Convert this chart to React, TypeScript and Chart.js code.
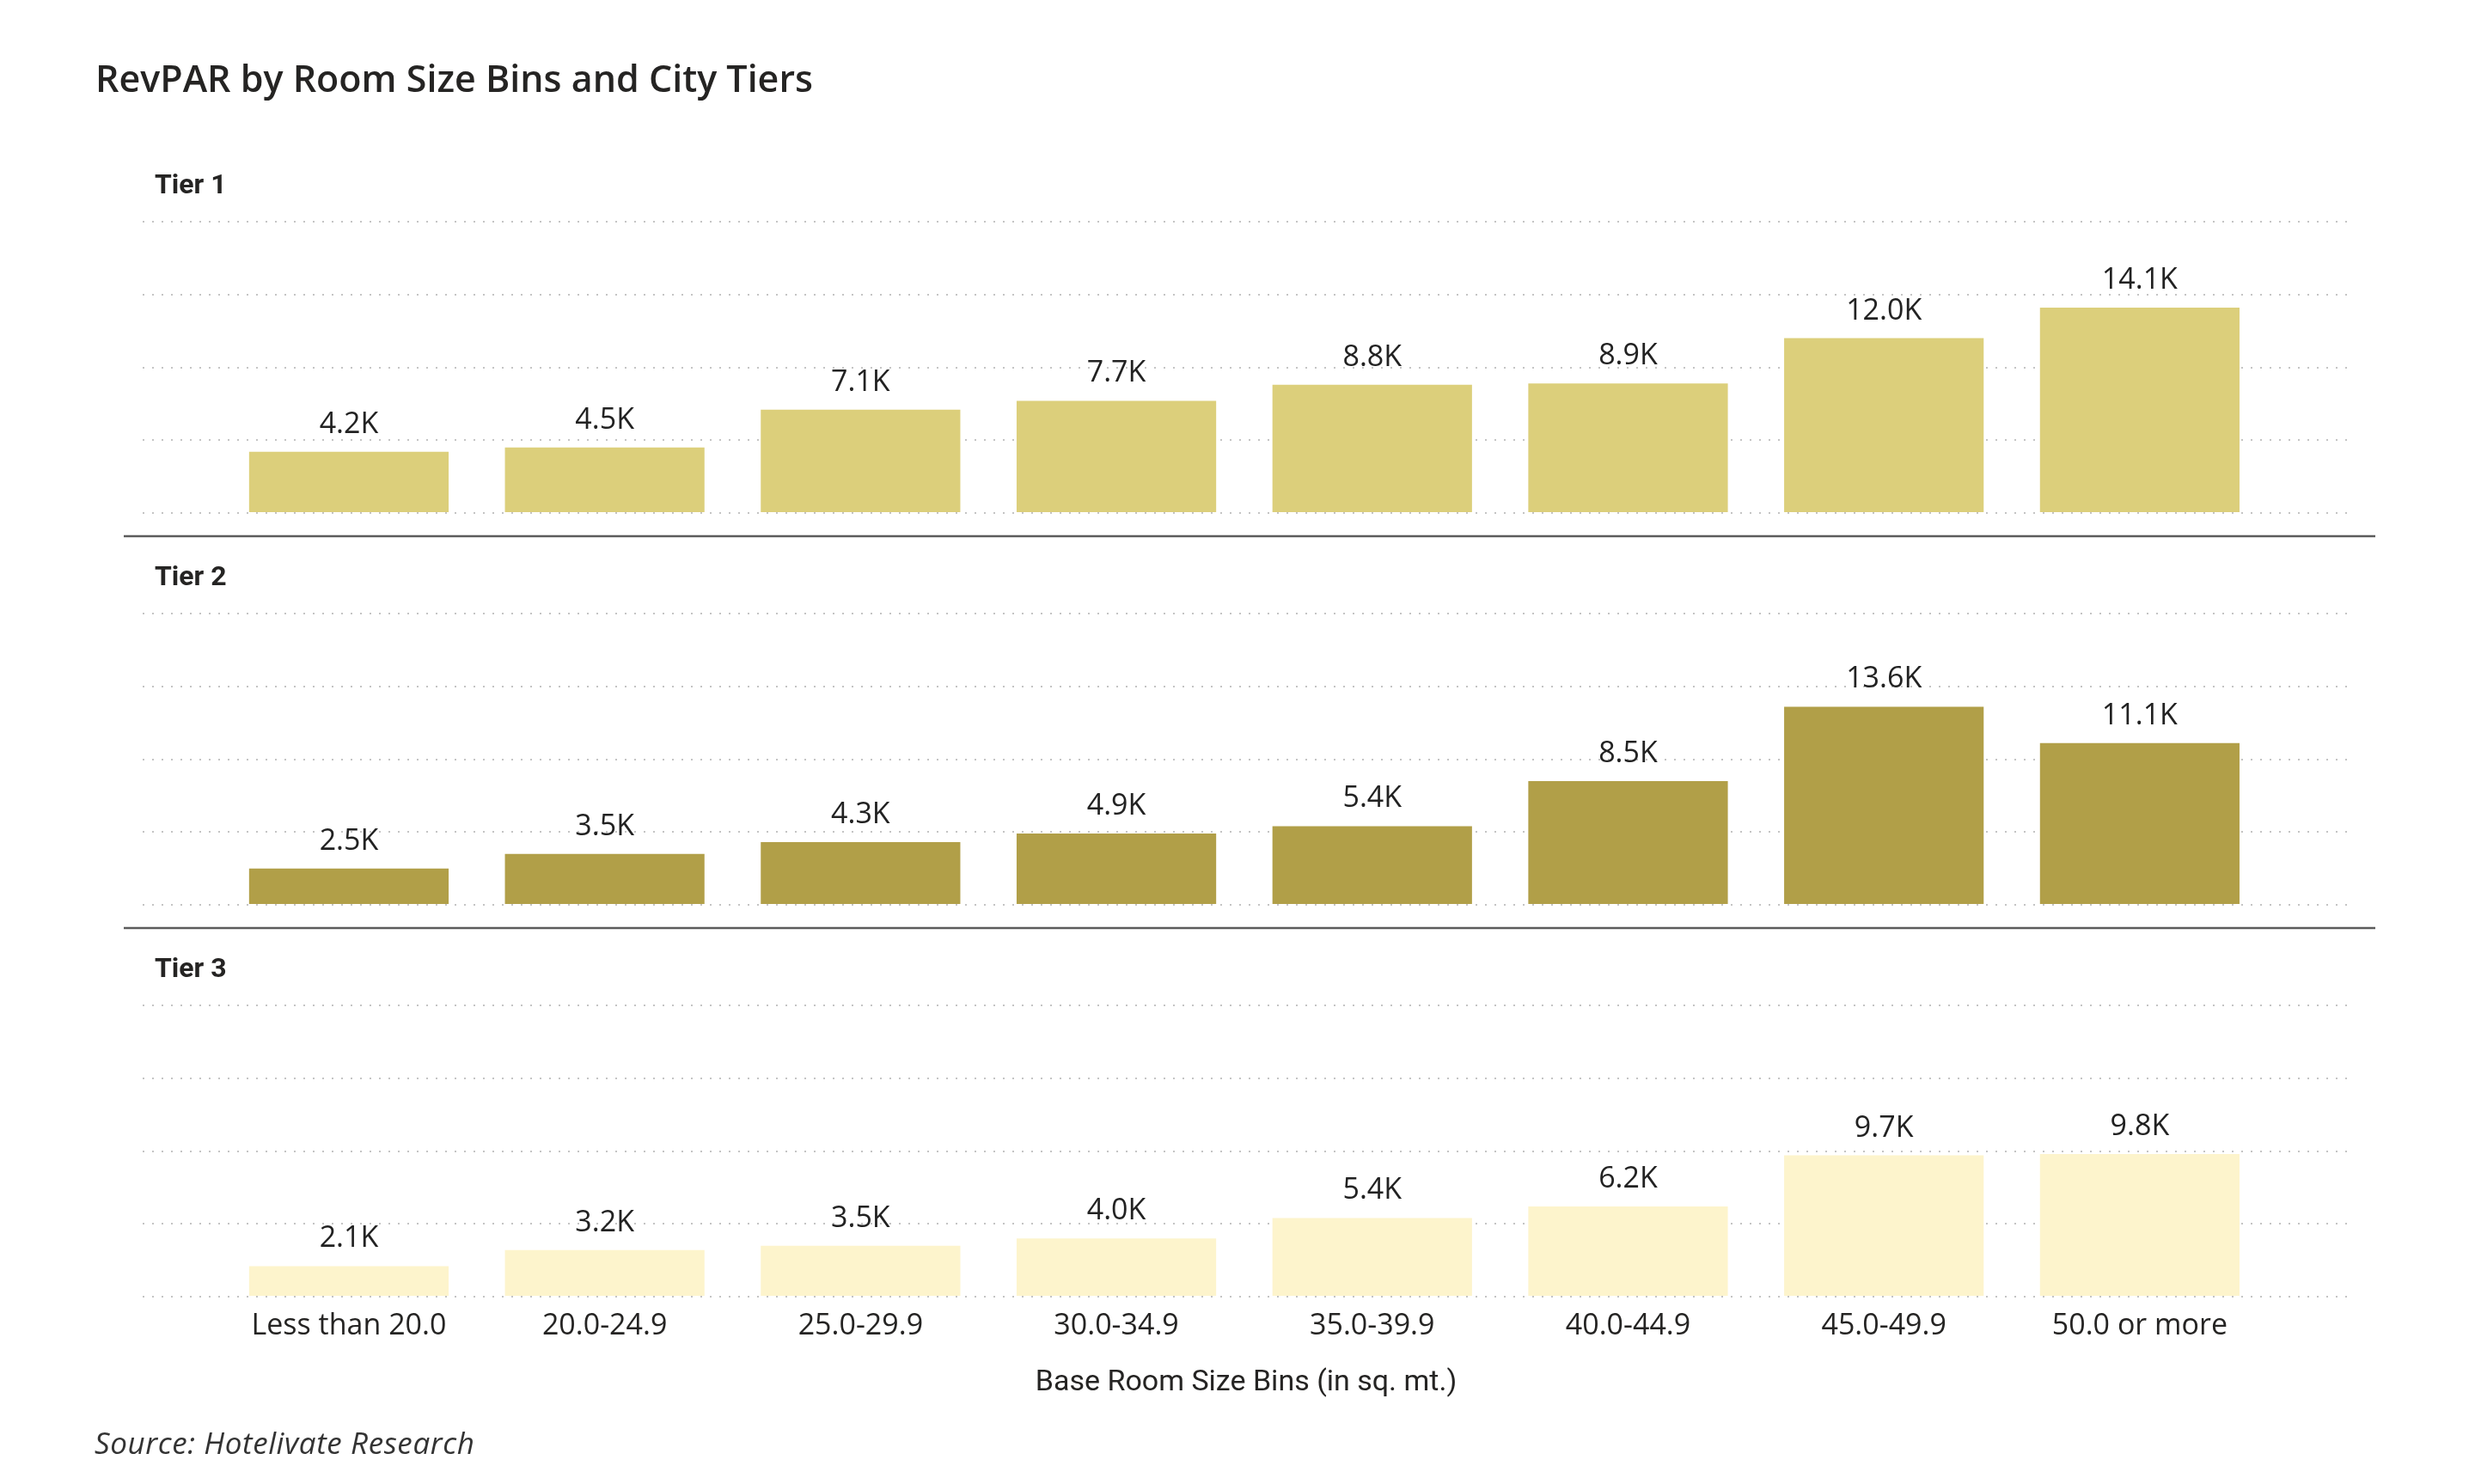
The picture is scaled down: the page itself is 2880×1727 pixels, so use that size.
import React, { useEffect, useRef } from 'react';
import { Chart, registerables } from 'chart.js';

Chart.register(...registerables);

// ---------- data ----------
const CATEGORIES = [
  'Less than 20.0',
  '20.0-24.9',
  '25.0-29.9',
  '30.0-34.9',
  '35.0-39.9',
  '40.0-44.9',
  '45.0-49.9',
  '50.0 or more',
];
const TIERS = ['Tier 1', 'Tier 2', 'Tier 3'];
const TIER1 = [4200, 4500, 7100, 7700, 8800, 8900, 12000, 14100];
const TIER2 = [2500, 3500, 4300, 4900, 5400, 8500, 13600, 11100];
const TIER3 = [2100, 3200, 3500, 4000, 5400, 6200, 9700, 9800];
const Y_TICKS = [0, 5000, 10000, 15000, 20000];

const TITLE = 'RevPAR by Room Size Bins and City Tiers';
const X_TITLE = 'Base Room Size Bins (in sq. mt.)';
const SOURCE = 'Source: Hotelivate Research';

// ---------- styles ----------
const COLORS = ['#DCCF7B', '#B19F48', '#FDF4CC'];
const W = 2880;
const H = 1727;
const PANEL_H = 456;
const PLOT_H = 339;
const Y_MAX = (20000 * PANEL_H) / PLOT_H;
const TEXT = '#252423';

const fmt = (v: number) => (v / 1000).toFixed(1) + 'K';

const decor = {
  id: 'decor',
  afterDatasetsDraw(chart: any) {
    const ctx = chart.ctx;
    ctx.save();
    ctx.fillStyle = '#222222';
    ctx.font = "34px 'Open Sans'";
    ctx.textAlign = 'center';
    ctx.textBaseline = 'alphabetic';
    chart.data.datasets.forEach((ds: any, i: number) => {
      const meta = chart.getDatasetMeta(i);
      meta.data.forEach((bar: any, j: number) => {
        ctx.fillText(fmt(ds.data[j].y), bar.x, bar.y - 22);
      });
    });
    ctx.restore();
  },
  afterDraw(chart: any) {
    const ctx = chart.ctx;
    const area = chart.chartArea;
    ctx.save();
    ctx.textAlign = 'left';
    ctx.textBaseline = 'alphabetic';
    ctx.fillStyle = TEXT;
    ctx.font = "600 43px 'Open Sans'";
    ctx.fillText(TITLE, 111, 107);

    ctx.fillStyle = '#333333';
    ctx.font = "italic 35px 'Open Sans'";
    (ctx as any).letterSpacing = '0.6px';
    ctx.fillText(SOURCE, 110, 1692);
    (ctx as any).letterSpacing = '0px';

    ['y1', 'y2', 'y3'].forEach((id, i) => {
      const s = chart.scales[id];
      if (i > 0) {
        ctx.strokeStyle = '#5b5b5b';
        ctx.lineWidth = 2.5;
        ctx.beginPath();
        ctx.moveTo(area.left - 22, s.top + 27);
        ctx.lineTo(area.right + 30, s.top + 27);
        ctx.stroke();
      }
      ctx.fillStyle = TEXT;
      ctx.font = '700 32px Roboto';
      ctx.fillText(TIERS[i], area.left + 14, s.top + 84);
    });
    ctx.restore();
  },
};

const yScale = () => ({
  type: 'linear',
  position: 'right',
  stack: 'tiers',
  stackWeight: 1,
  min: 0,
  max: Y_MAX,
  offset: false,
  afterBuildTicks: (s: any) => {
    s.ticks = Y_TICKS.map((v) => ({ value: v }));
  },
  ticks: { display: false },
  grid: { color: '#c4c4c4', lineWidth: 2, drawTicks: false },
  border: { display: false, dash: [2, 9] },
});

export default function App() {
  const ref = useRef<HTMLCanvasElement | null>(null);

  useEffect(() => {
    document.body.style.margin = '0';
    document.body.style.overflow = 'hidden';
    const canvas = ref.current;
    if (!canvas) return;
    const series = [TIER1, TIER2, TIER3];
    const chart = new Chart(canvas, {
      type: 'bar',
      data: {
        datasets: series.map((vals, i) => ({
          label: TIERS[i],
          data: vals.map((v, j) => ({ x: j, y: v })),
          backgroundColor: COLORS[i],
          yAxisID: 'y' + (i + 1),
          grouped: false,
          categoryPercentage: 1,
          barPercentage: 0.78,
        })),
      } as any,
      plugins: [decor],
      options: {
        animation: false,
        responsive: false,
        events: [],
        layout: { padding: { left: 166, right: 146, top: 141, bottom: 0 } },
        plugins: {
          legend: { display: false },
          tooltip: { enabled: false },
          title: { display: false },
        },
        scales: {
          x: {
            type: 'linear',
            position: 'bottom',
            offset: false,
            min: -0.806,
            max: 7.82,
            afterBuildTicks: (s: any) => {
              s.ticks = CATEGORIES.map((_, i) => ({ value: i }));
            },
            afterFit: (s: any) => {
              s.height = 218;
            },
            grid: { display: false, offset: false },
            border: { display: false },
            ticks: {
              autoSkip: false,
              maxRotation: 0,
              padding: 6,
              color: TEXT,
              font: { family: "'Open Sans'", size: 34 },
              callback: (v: any) => CATEGORIES[v as number] ?? '',
            },
            title: {
              display: true,
              text: X_TITLE,
              color: TEXT,
              font: { family: 'Roboto', size: 34 },
              padding: { top: 0, bottom: 97 },
            },
          },
          y1: yScale(),
          y2: yScale(),
          y3: yScale(),
        } as any,
      },
    });
    return () => chart.destroy();
  }, []);

  return (
    <div style={{ position: 'absolute', left: 0, top: 0, width: W, height: H, background: '#ffffff' }}>
      <canvas ref={ref} width={W} height={H} style={{ width: W, height: H, display: 'block' }} />
    </div>
  );
}
